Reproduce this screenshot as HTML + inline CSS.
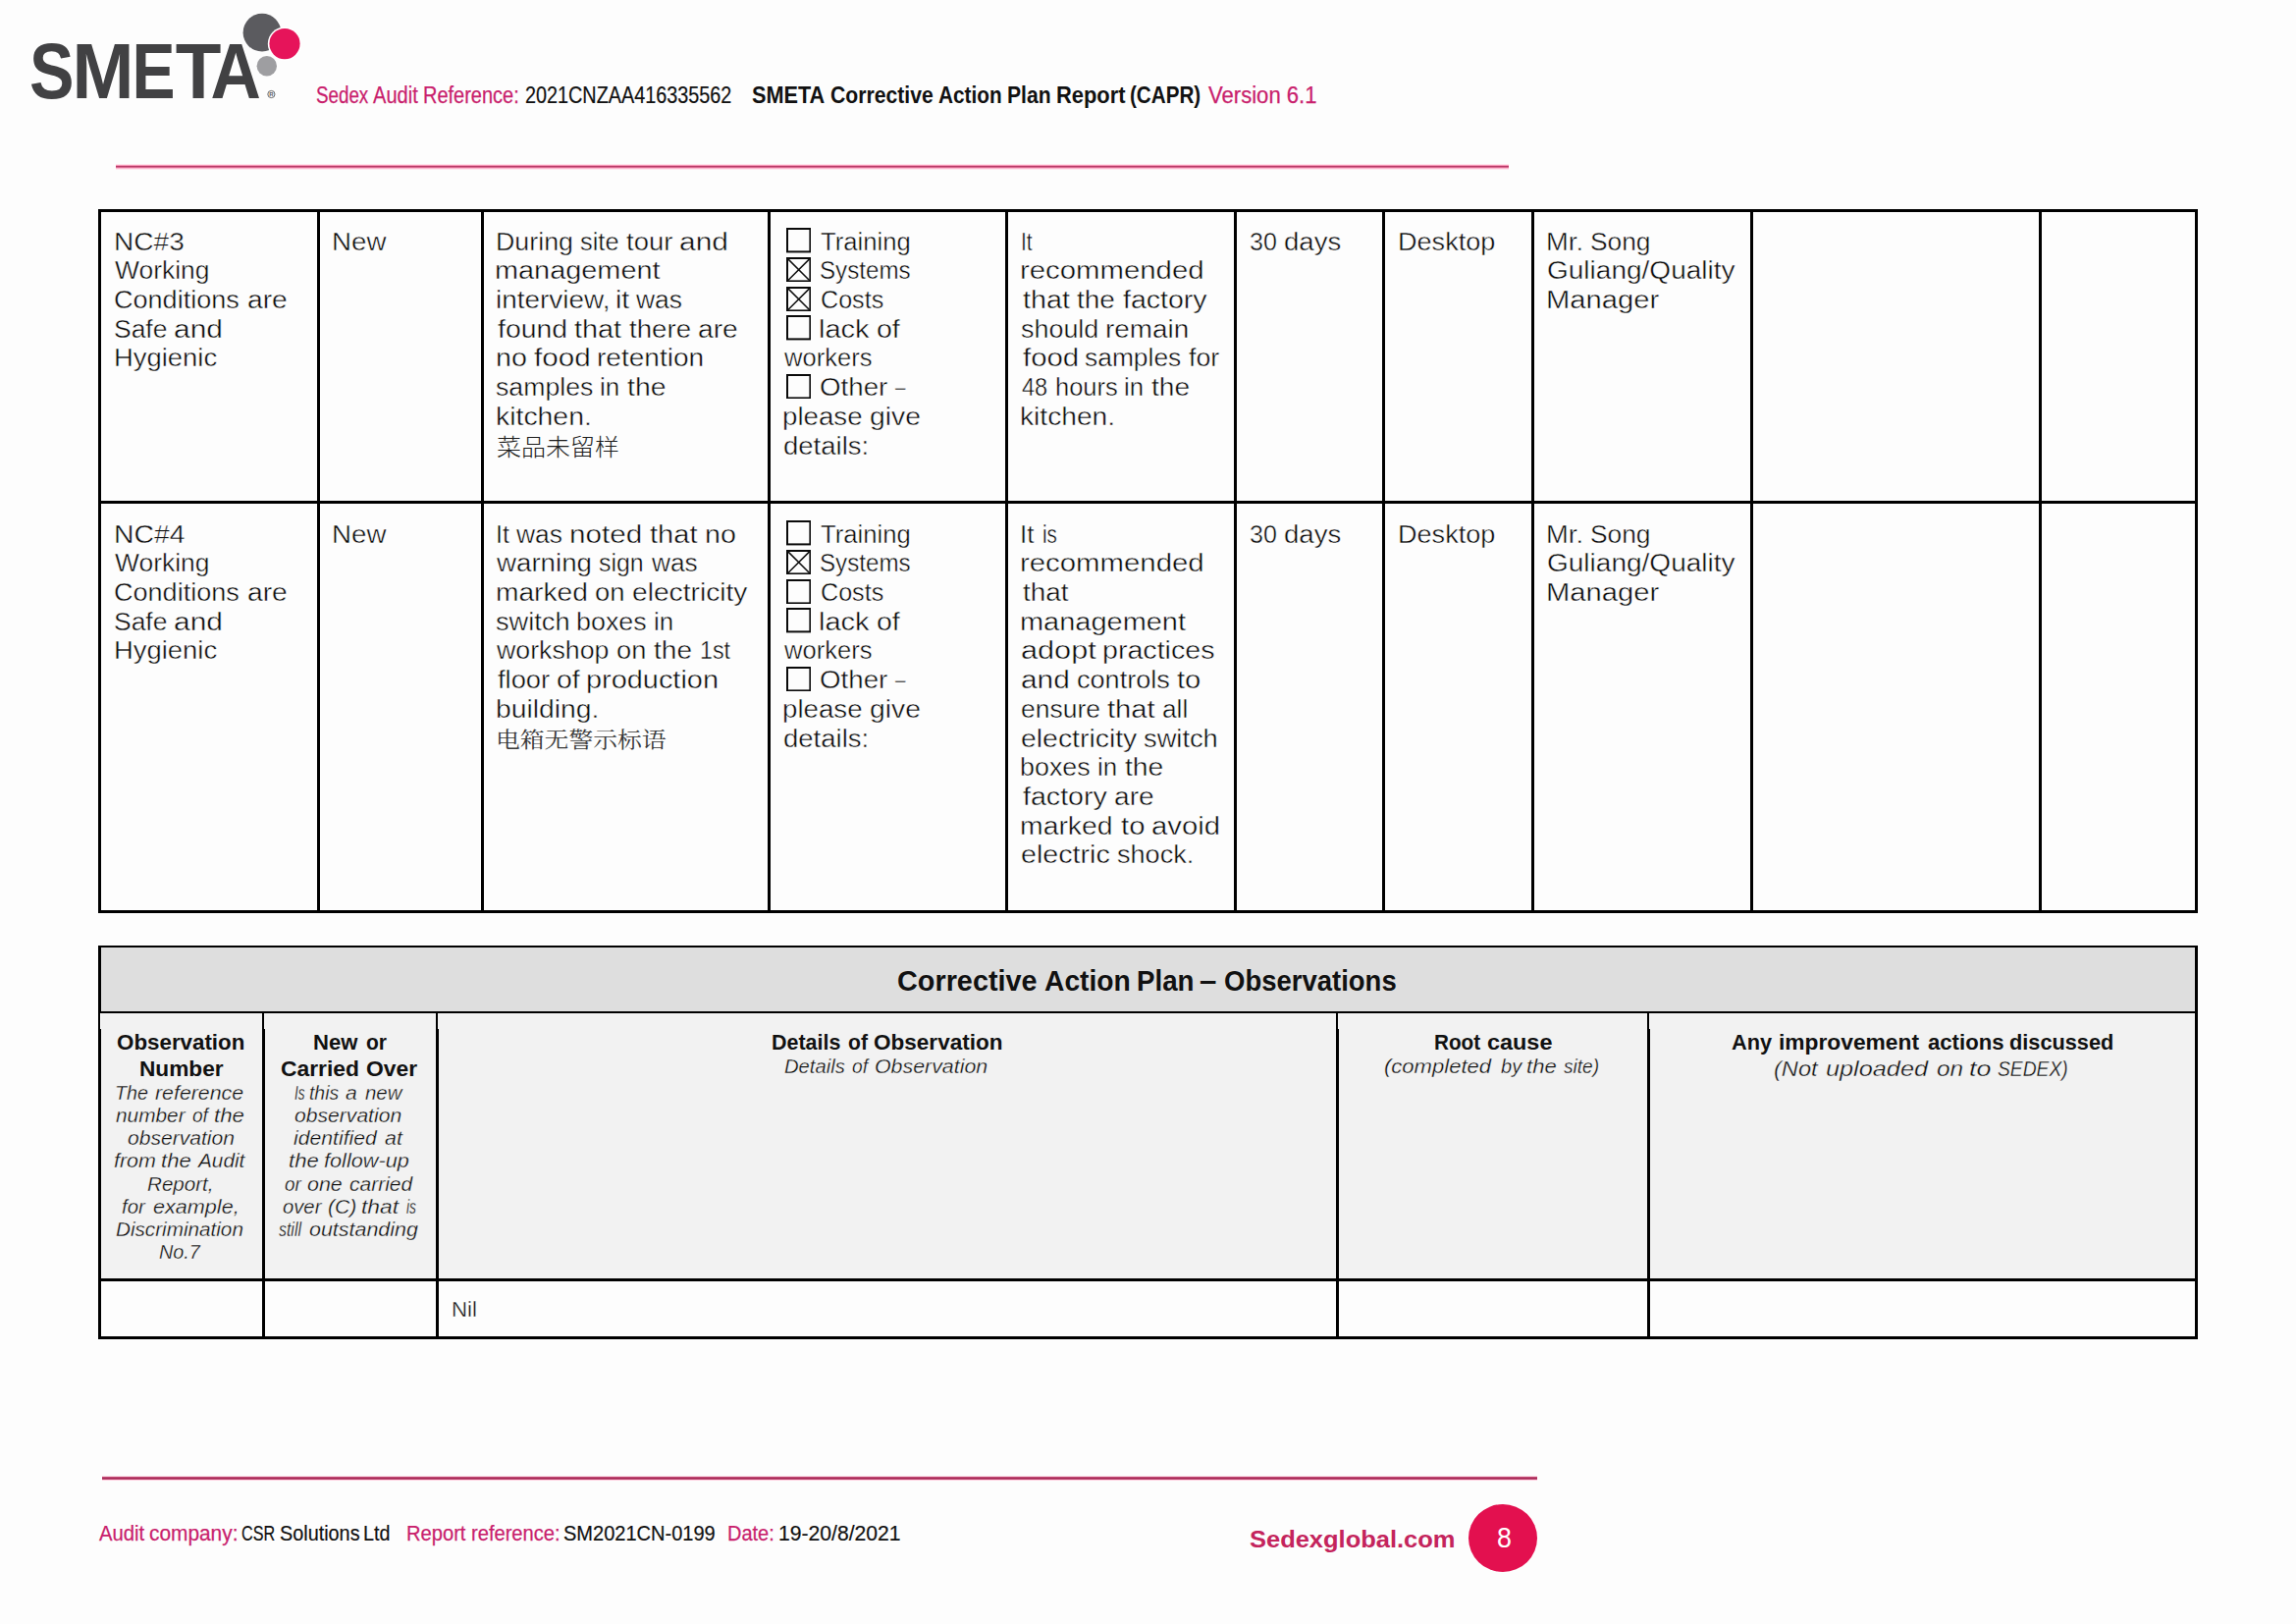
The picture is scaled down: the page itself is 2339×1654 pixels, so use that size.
<!DOCTYPE html>
<html lang="en"><head><meta charset="utf-8"><title>SMETA Corrective Action Plan Report (CAPR)</title>
<style>
html,body{margin:0;padding:0;background:#fff}
#pg{position:relative;width:2339px;height:1654px;overflow:hidden;background:#fdfdfd}
span.t{position:absolute;white-space:pre;line-height:1;transform-origin:0 0}
.k{position:absolute;background:#000}
.bx{position:absolute}
.r{font:400 25px "Liberation Sans",sans-serif;color:#0c0c0c;-webkit-text-stroke:0.4px #fdfdfd}
.r21{font:400 22.2px "Liberation Sans",sans-serif;color:#111;-webkit-text-stroke:0.35px #fdfdfd}
.b28{font:700 28.6px "Liberation Sans",sans-serif;color:#111}
.b22{font:700 22.2px "Liberation Sans",sans-serif;color:#111}
.i18{font:italic 400 19.4px "Liberation Sans",sans-serif;color:#0c0c0c;-webkit-text-stroke:0.3px #f2f2f2}
.i20{font:italic 400 22.2px "Liberation Sans",sans-serif;color:#0c0c0c;-webkit-text-stroke:0.35px #f2f2f2}
.zh1{font:300 24.5px "Liberation Sans","Noto Sans CJK SC",sans-serif;color:#1c1c1c}
.zh2{font:400 24.5px "Liberation Serif","Noto Serif CJK SC",serif;color:#383838}
.hp{font:400 23.5px "Liberation Sans",sans-serif;color:#c91f6d;-webkit-text-stroke:0.25px #c91f6d}
.hk{font:400 23.5px "Liberation Sans",sans-serif;color:#111;-webkit-text-stroke:0.2px #111}
.hb{font:700 24px "Liberation Sans",sans-serif;color:#111}
.fp{font:400 22px "Liberation Sans",sans-serif;color:#c91f6d;-webkit-text-stroke:0.25px #c91f6d}
.fk{font:400 22px "Liberation Sans",sans-serif;color:#111;-webkit-text-stroke:0.2px #111}
.sg{font:700 23px "Liberation Sans",sans-serif;color:#c4245c}
.pg{font:400 30px "Liberation Sans",sans-serif;color:#fff}
</style></head>
<body><div id="pg">
<header>
<svg class="bx" style="left:0;top:0" width="340" height="125" viewBox="0 0 340 125">
<circle cx="267" cy="33.2" r="19.4" fill="#5b5b5f"/>
<circle cx="271.8" cy="67.2" r="10.2" fill="#9e9ea1"/>
<circle cx="290" cy="44.6" r="17.2" fill="#fff"/>
<circle cx="290" cy="44.6" r="15.6" fill="#e6145a"/>
<text y="99.9" font-family="'Liberation Sans',sans-serif" font-weight="700" font-size="79" fill="#414143"><tspan x="30" textLength="45.5" lengthAdjust="spacingAndGlyphs">S</tspan><tspan x="73.5" textLength="63" lengthAdjust="spacingAndGlyphs">M</tspan><tspan x="134.5" textLength="44" lengthAdjust="spacingAndGlyphs">E</tspan><tspan x="178.7" textLength="46.6" lengthAdjust="spacingAndGlyphs">T</tspan><tspan x="214.6" textLength="51.4" lengthAdjust="spacingAndGlyphs">A</tspan></text>
<circle cx="276.4" cy="96" r="3.6" fill="none" stroke="#58585a" stroke-width="0.9"/>
<text x="276.4" y="98.3" font-family="'Liberation Sans',sans-serif" font-weight="700" font-size="6" fill="#58585a" text-anchor="middle">R</text>
</svg>
<div class="bx" style="left:117.5px;top:167px;width:1419px;height:6px;background:linear-gradient(to bottom,#ffe2eb 0px,#ffe2eb 1px,#f494b4 1px,#f494b4 2px,#b83c68 2px,#b83c68 3px,#dc6a92 3px,#dc6a92 4px,#fbb9d0 4px,#fbb9d0 5px,#ffe6ee 5px,#ffe6ee 6px)"></div>
<span class="t hp" style="left:321.60px;top:85.80px;transform:scaleX(0.7985)">Sedex </span>
<span class="t hp" style="left:380.10px;top:85.80px;transform:scaleX(0.8537)">Audit </span>
<span class="t hp" style="left:431.35px;top:85.80px;transform:scaleX(0.8500)">Reference:</span>
<span class="t hk" style="left:534.66px;top:85.80px;transform:scaleX(0.8427)">2021CNZAA416335562</span>
<span class="t hb" style="left:765.90px;top:84.80px;transform:scaleX(0.9025)">SMETA </span>
<span class="t hb" style="left:845.62px;top:84.80px;transform:scaleX(0.8821)">Corrective </span>
<span class="t hb" style="left:956.20px;top:84.80px;transform:scaleX(0.8649)">Action </span>
<span class="t hb" style="left:1025.92px;top:84.80px;transform:scaleX(0.8796)">Plan </span>
<span class="t hb" style="left:1075.99px;top:84.80px;transform:scaleX(0.9118)">Report </span>
<span class="t hb" style="left:1151.34px;top:84.80px;transform:scaleX(0.8598)">(CAPR)</span>
<span class="t hp" style="left:1231.10px;top:85.80px;transform:scaleX(0.9402)">Version 6.1</span>
</header>
<main>
<section id="nc-table">
<div class="k" style="left:100px;top:213px;width:3px;height:717px;"></div>
<div class="k" style="left:323px;top:213px;width:3px;height:717px;"></div>
<div class="k" style="left:490px;top:213px;width:3px;height:717px;"></div>
<div class="k" style="left:782px;top:213px;width:3px;height:717px;"></div>
<div class="k" style="left:1024px;top:213px;width:3px;height:717px;"></div>
<div class="k" style="left:1257px;top:213px;width:3px;height:717px;"></div>
<div class="k" style="left:1408px;top:213px;width:3px;height:717px;"></div>
<div class="k" style="left:1560px;top:213px;width:3px;height:717px;"></div>
<div class="k" style="left:1783px;top:213px;width:3px;height:717px;"></div>
<div class="k" style="left:2077px;top:213px;width:3px;height:717px;"></div>
<div class="k" style="left:2236px;top:213px;width:3px;height:717px;"></div>
<div class="k" style="left:100px;top:213px;width:2139px;height:3px;"></div>
<div class="k" style="left:100px;top:510px;width:2139px;height:3px;"></div>
<div class="k" style="left:100px;top:927px;width:2139px;height:3px;"></div>
<svg class="bx" style="left:800.5px;top:232.2px" width="25.4" height="25.4" viewBox="0 0 25.4 25.4"><rect x="1" y="1" width="23.4" height="23.4" fill="none" stroke="#0a0a0a" stroke-width="2"/></svg>
<svg class="bx" style="left:800.5px;top:261.92px" width="25.4" height="25.4" viewBox="0 0 25.4 25.4"><rect x="1" y="1" width="23.4" height="23.4" fill="none" stroke="#0a0a0a" stroke-width="2"/><path d="M1.6 1.6L23.8 23.8M23.8 1.6L1.6 23.8" stroke="#111" stroke-width="1.5" fill="none"/></svg>
<svg class="bx" style="left:800.5px;top:291.64px" width="25.4" height="25.4" viewBox="0 0 25.4 25.4"><rect x="1" y="1" width="23.4" height="23.4" fill="none" stroke="#0a0a0a" stroke-width="2"/><path d="M1.6 1.6L23.8 23.8M23.8 1.6L1.6 23.8" stroke="#111" stroke-width="1.5" fill="none"/></svg>
<svg class="bx" style="left:800.5px;top:321.36px" width="25.4" height="25.4" viewBox="0 0 25.4 25.4"><rect x="1" y="1" width="23.4" height="23.4" fill="none" stroke="#0a0a0a" stroke-width="2"/></svg>
<svg class="bx" style="left:800.5px;top:380.8px" width="25.4" height="25.4" viewBox="0 0 25.4 25.4"><rect x="1" y="1" width="23.4" height="23.4" fill="none" stroke="#0a0a0a" stroke-width="2"/></svg>
<svg class="bx" style="left:800.5px;top:530.2px" width="25.4" height="25.4" viewBox="0 0 25.4 25.4"><rect x="1" y="1" width="23.4" height="23.4" fill="none" stroke="#0a0a0a" stroke-width="2"/></svg>
<svg class="bx" style="left:800.5px;top:559.9px" width="25.4" height="25.4" viewBox="0 0 25.4 25.4"><rect x="1" y="1" width="23.4" height="23.4" fill="none" stroke="#0a0a0a" stroke-width="2"/><path d="M1.6 1.6L23.8 23.8M23.8 1.6L1.6 23.8" stroke="#111" stroke-width="1.5" fill="none"/></svg>
<svg class="bx" style="left:800.5px;top:589.6px" width="25.4" height="25.4" viewBox="0 0 25.4 25.4"><rect x="1" y="1" width="23.4" height="23.4" fill="none" stroke="#0a0a0a" stroke-width="2"/></svg>
<svg class="bx" style="left:800.5px;top:619.3px" width="25.4" height="25.4" viewBox="0 0 25.4 25.4"><rect x="1" y="1" width="23.4" height="23.4" fill="none" stroke="#0a0a0a" stroke-width="2"/></svg>
<svg class="bx" style="left:800.5px;top:678.7px" width="25.4" height="25.4" viewBox="0 0 25.4 25.4"><rect x="1" y="1" width="23.4" height="23.4" fill="none" stroke="#0a0a0a" stroke-width="2"/></svg>
<span class="t r" style="left:115.55px;top:233.60px;transform:scaleX(1.1230)">NC#3</span>
<span class="t r" style="left:117.30px;top:263.32px;transform:scaleX(1.0567)">Working</span>
<span class="t r" style="left:116.22px;top:293.04px;transform:scaleX(1.0816)">Conditions </span>
<span class="t r" style="left:251.70px;top:293.04px;transform:scaleX(1.1286)">are</span>
<span class="t r" style="left:115.74px;top:322.76px;transform:scaleX(1.0584)">Safe </span>
<span class="t r" style="left:176.85px;top:322.76px;transform:scaleX(1.1963)">and</span>
<span class="t r" style="left:115.61px;top:352.48px;transform:scaleX(1.0968)">Hygienic</span>
<span class="t r" style="left:338.28px;top:233.60px;transform:scaleX(1.1083)">New</span>
<span class="t r" style="left:504.75px;top:233.60px;transform:scaleX(1.0725)">During </span>
<span class="t r" style="left:590.69px;top:233.60px;transform:scaleX(1.0152)">site </span>
<span class="t r" style="left:637.82px;top:233.60px;transform:scaleX(1.0981)">tour </span>
<span class="t r" style="left:692.26px;top:233.60px;transform:scaleX(1.1959)">and</span>
<span class="t r" style="left:504.19px;top:263.32px;transform:scaleX(1.1549)">management</span>
<span class="t r" style="left:504.67px;top:293.04px;transform:scaleX(1.1170)">interview, </span>
<span class="t r" style="left:627.29px;top:293.04px;transform:scaleX(1.1391)">it </span>
<span class="t r" style="left:648.46px;top:293.04px;transform:scaleX(1.0578)">was</span>
<span class="t r" style="left:506.50px;top:322.76px;transform:scaleX(1.1356)">found </span>
<span class="t r" style="left:584.91px;top:322.76px;transform:scaleX(1.1537)">that </span>
<span class="t r" style="left:640.89px;top:322.76px;transform:scaleX(1.1058)">there </span>
<span class="t r" style="left:710.98px;top:322.76px;transform:scaleX(1.1264)">are</span>
<span class="t r" style="left:504.61px;top:352.48px;transform:scaleX(1.1458)">no </span>
<span class="t r" style="left:544.07px;top:352.48px;transform:scaleX(1.1843)">food </span>
<span class="t r" style="left:608.20px;top:352.48px;transform:scaleX(1.1218)">retention</span>
<span class="t r" style="left:505.03px;top:382.20px;transform:scaleX(1.0669)">samples </span>
<span class="t r" style="left:610.84px;top:382.20px;transform:scaleX(1.0378)">in </span>
<span class="t r" style="left:638.76px;top:382.20px;transform:scaleX(1.1365)">the</span>
<span class="t r" style="left:504.63px;top:411.92px;transform:scaleX(1.1354)">kitchen.</span>
<span class="t r" style="left:835.57px;top:233.60px;transform:scaleX(1.0264)">Training</span>
<span class="t r" style="left:834.83px;top:263.32px;transform:scaleX(0.9660)">Systems</span>
<span class="t r" style="left:835.60px;top:293.04px;transform:scaleX(1.0048)">Costs</span>
<span class="t r" style="left:834.28px;top:322.76px;transform:scaleX(1.1603)">lack </span>
<span class="t r" style="left:892.63px;top:322.76px;transform:scaleX(1.1412)">of</span>
<span class="t r" style="left:798.90px;top:352.48px;transform:scaleX(1.0218)">workers</span>
<span class="t r" style="left:835.49px;top:382.20px;transform:scaleX(1.1079)">Other </span>
<span class="t r" style="left:912.33px;top:382.20px;transform:scaleX(0.7478)">–</span>
<span class="t r" style="left:797.38px;top:411.92px;transform:scaleX(1.1077)">please </span>
<span class="t r" style="left:886.49px;top:411.92px;transform:scaleX(1.1313)">give</span>
<span class="t r" style="left:798.10px;top:441.64px;transform:scaleX(1.1000)">details:</span>
<span class="t r" style="left:1039.93px;top:233.60px;transform:scaleX(0.8333)">It</span>
<span class="t r" style="left:1038.55px;top:263.32px;transform:scaleX(1.1737)">recommended</span>
<span class="t r" style="left:1041.60px;top:293.04px;transform:scaleX(1.1492)">that </span>
<span class="t r" style="left:1097.35px;top:293.04px;transform:scaleX(1.1205)">the </span>
<span class="t r" style="left:1143.88px;top:293.04px;transform:scaleX(1.1402)">factory</span>
<span class="t r" style="left:1039.82px;top:322.76px;transform:scaleX(1.0762)">should </span>
<span class="t r" style="left:1125.83px;top:322.76px;transform:scaleX(1.1143)">remain</span>
<span class="t r" style="left:1041.60px;top:352.48px;transform:scaleX(1.1755)">food </span>
<span class="t r" style="left:1105.43px;top:352.48px;transform:scaleX(1.0558)">samples </span>
<span class="t r" style="left:1210.70px;top:352.48px;transform:scaleX(1.0689)">for</span>
<span class="t r" style="left:1041.30px;top:382.20px;transform:scaleX(0.9420)">48 </span>
<span class="t r" style="left:1074.67px;top:382.20px;transform:scaleX(1.0190)">hours </span>
<span class="t r" style="left:1145.44px;top:382.20px;transform:scaleX(1.0285)">in </span>
<span class="t r" style="left:1173.10px;top:382.20px;transform:scaleX(1.1264)">the</span>
<span class="t r" style="left:1039.35px;top:411.92px;transform:scaleX(1.1268)">kitchen.</span>
<span class="t r" style="left:1272.50px;top:233.60px;transform:scaleX(0.9987)">30 </span>
<span class="t r" style="left:1307.86px;top:233.60px;transform:scaleX(1.1027)">days</span>
<span class="t r" style="left:1423.73px;top:233.60px;transform:scaleX(1.0831)">Desktop</span>
<span class="t r" style="left:1575.11px;top:233.60px;transform:scaleX(1.0942)">Mr. </span>
<span class="t r" style="left:1620.24px;top:233.60px;transform:scaleX(1.0537)">Song</span>
<span class="t r" style="left:1576.18px;top:263.32px;transform:scaleX(1.1206)">Guliang/Quality</span>
<span class="t r" style="left:1574.97px;top:293.04px;transform:scaleX(1.1667)">Manager</span>
<span class="t r" style="left:115.53px;top:531.60px;transform:scaleX(1.1344)">NC#4</span>
<span class="t r" style="left:117.30px;top:561.30px;transform:scaleX(1.0567)">Working</span>
<span class="t r" style="left:116.22px;top:591.00px;transform:scaleX(1.0816)">Conditions </span>
<span class="t r" style="left:251.70px;top:591.00px;transform:scaleX(1.1286)">are</span>
<span class="t r" style="left:115.74px;top:620.70px;transform:scaleX(1.0584)">Safe </span>
<span class="t r" style="left:176.85px;top:620.70px;transform:scaleX(1.1963)">and</span>
<span class="t r" style="left:115.61px;top:650.40px;transform:scaleX(1.0968)">Hygienic</span>
<span class="t r" style="left:338.28px;top:531.60px;transform:scaleX(1.1083)">New</span>
<span class="t r" style="left:504.89px;top:531.60px;transform:scaleX(1.0038)">It </span>
<span class="t r" style="left:526.45px;top:531.60px;transform:scaleX(1.0580)">was </span>
<span class="t r" style="left:580.34px;top:531.60px;transform:scaleX(1.1863)">noted </span>
<span class="t r" style="left:661.92px;top:531.60px;transform:scaleX(1.1628)">that </span>
<span class="t r" style="left:717.55px;top:531.60px;transform:scaleX(1.1464)">no</span>
<span class="t r" style="left:506.10px;top:561.30px;transform:scaleX(1.1070)">warning </span>
<span class="t r" style="left:609.94px;top:561.30px;transform:scaleX(0.9971)">sign </span>
<span class="t r" style="left:663.88px;top:561.30px;transform:scaleX(1.0504)">was</span>
<span class="t r" style="left:504.65px;top:591.00px;transform:scaleX(1.1265)">marked </span>
<span class="t r" style="left:605.91px;top:591.00px;transform:scaleX(1.0968)">on </span>
<span class="t r" style="left:644.38px;top:591.00px;transform:scaleX(1.1271)">electricity</span>
<span class="t r" style="left:505.01px;top:620.70px;transform:scaleX(1.0870)">switch </span>
<span class="t r" style="left:587.48px;top:620.70px;transform:scaleX(1.0753)">boxes </span>
<span class="t r" style="left:666.09px;top:620.70px;transform:scaleX(1.0341)">in</span>
<span class="t r" style="left:506.10px;top:650.40px;transform:scaleX(1.0690)">workshop </span>
<span class="t r" style="left:627.58px;top:650.40px;transform:scaleX(1.0905)">on </span>
<span class="t r" style="left:666.14px;top:650.40px;transform:scaleX(1.1216)">the </span>
<span class="t r" style="left:713.22px;top:650.40px;transform:scaleX(0.9298)">1st</span>
<span class="t r" style="left:506.90px;top:680.10px;transform:scaleX(1.0923)">floor </span>
<span class="t r" style="left:566.56px;top:680.10px;transform:scaleX(1.1372)">of </span>
<span class="t r" style="left:597.16px;top:680.10px;transform:scaleX(1.1560)">production</span>
<span class="t r" style="left:504.63px;top:709.80px;transform:scaleX(1.1326)">building.</span>
<span class="t r" style="left:835.57px;top:531.60px;transform:scaleX(1.0264)">Training</span>
<span class="t r" style="left:834.83px;top:561.30px;transform:scaleX(0.9660)">Systems</span>
<span class="t r" style="left:835.60px;top:591.00px;transform:scaleX(1.0048)">Costs</span>
<span class="t r" style="left:834.28px;top:620.70px;transform:scaleX(1.1603)">lack </span>
<span class="t r" style="left:892.63px;top:620.70px;transform:scaleX(1.1412)">of</span>
<span class="t r" style="left:798.90px;top:650.40px;transform:scaleX(1.0218)">workers</span>
<span class="t r" style="left:835.49px;top:680.10px;transform:scaleX(1.1079)">Other </span>
<span class="t r" style="left:912.33px;top:680.10px;transform:scaleX(0.7478)">–</span>
<span class="t r" style="left:797.38px;top:709.80px;transform:scaleX(1.1077)">please </span>
<span class="t r" style="left:886.49px;top:709.80px;transform:scaleX(1.1313)">give</span>
<span class="t r" style="left:798.10px;top:739.50px;transform:scaleX(1.1000)">details:</span>
<span class="t r" style="left:1039.43px;top:531.60px;transform:scaleX(1.0364)">It </span>
<span class="t r" style="left:1061.66px;top:531.60px;transform:scaleX(0.8256)">is</span>
<span class="t r" style="left:1038.65px;top:561.30px;transform:scaleX(1.1744)">recommended</span>
<span class="t r" style="left:1041.50px;top:591.00px;transform:scaleX(1.1143)">that</span>
<span class="t r" style="left:1039.18px;top:620.70px;transform:scaleX(1.1583)">management</span>
<span class="t r" style="left:1039.77px;top:650.40px;transform:scaleX(1.2271)">adopt </span>
<span class="t r" style="left:1122.64px;top:650.40px;transform:scaleX(1.1441)">practices</span>
<span class="t r" style="left:1039.81px;top:680.10px;transform:scaleX(1.1942)">and </span>
<span class="t r" style="left:1096.53px;top:680.10px;transform:scaleX(1.0837)">controls </span>
<span class="t r" style="left:1199.03px;top:680.10px;transform:scaleX(1.1687)">to</span>
<span class="t r" style="left:1039.94px;top:709.80px;transform:scaleX(1.0586)">ensure </span>
<span class="t r" style="left:1127.89px;top:709.80px;transform:scaleX(1.1666)">that </span>
<span class="t r" style="left:1184.28px;top:709.80px;transform:scaleX(1.0510)">all</span>
<span class="t r" style="left:1039.86px;top:739.50px;transform:scaleX(1.1356)">electricity </span>
<span class="t r" style="left:1165.02px;top:739.50px;transform:scaleX(1.0908)">switch</span>
<span class="t r" style="left:1039.35px;top:769.20px;transform:scaleX(1.0747)">boxes </span>
<span class="t r" style="left:1117.91px;top:769.20px;transform:scaleX(1.0336)">in </span>
<span class="t r" style="left:1145.71px;top:769.20px;transform:scaleX(1.1320)">the</span>
<span class="t r" style="left:1041.50px;top:798.90px;transform:scaleX(1.1435)">factory </span>
<span class="t r" style="left:1134.52px;top:798.90px;transform:scaleX(1.1251)">are</span>
<span class="t r" style="left:1039.23px;top:828.60px;transform:scaleX(1.1349)">marked </span>
<span class="t r" style="left:1141.53px;top:828.60px;transform:scaleX(1.1711)">to </span>
<span class="t r" style="left:1173.16px;top:828.60px;transform:scaleX(1.1714)">avoid</span>
<span class="t r" style="left:1039.85px;top:858.30px;transform:scaleX(1.1457)">electric </span>
<span class="t r" style="left:1138.38px;top:858.30px;transform:scaleX(1.0832)">shock.</span>
<span class="t r" style="left:1272.50px;top:531.60px;transform:scaleX(0.9987)">30 </span>
<span class="t r" style="left:1307.86px;top:531.60px;transform:scaleX(1.1027)">days</span>
<span class="t r" style="left:1423.73px;top:531.60px;transform:scaleX(1.0831)">Desktop</span>
<span class="t r" style="left:1575.11px;top:531.60px;transform:scaleX(1.0942)">Mr. </span>
<span class="t r" style="left:1620.24px;top:531.60px;transform:scaleX(1.0537)">Song</span>
<span class="t r" style="left:1576.18px;top:561.30px;transform:scaleX(1.1206)">Guliang/Quality</span>
<span class="t r" style="left:1574.97px;top:591.00px;transform:scaleX(1.1667)">Manager</span>
<span class="t zh1" style="left:505.88px;top:445.36px;transform:scale(1.0192,0.9625)">菜品未留样</span>
<span class="t zh2" style="left:505.36px;top:743.48px;transform:scale(1.0125,0.8920)">电箱无警示标语</span>
</section>
<section id="obs-table">
<div class="bx" style="left:103px;top:965px;width:2133px;height:65px;background:#dedede"></div>
<div class="bx" style="left:103px;top:1032px;width:2133px;height:270px;background:#f2f2f2"></div>
<div class="k" style="left:100px;top:963px;width:2139px;height:2px;"></div>
<div class="k" style="left:100px;top:1030px;width:2139px;height:2px;"></div>
<div class="k" style="left:100px;top:1302px;width:2139px;height:3px;"></div>
<div class="k" style="left:100px;top:1361px;width:2139px;height:3px;"></div>
<div class="k" style="left:100px;top:963px;width:3px;height:69px;"></div>
<div class="k" style="left:100px;top:1032px;width:2px;height:16px;"></div>
<div class="k" style="left:100px;top:1047.5px;width:3px;height:316.5px;"></div>
<div class="k" style="left:2236px;top:963px;width:3px;height:401px;"></div>
<div class="k" style="left:267px;top:1031px;width:2px;height:17px;"></div>
<div class="k" style="left:267px;top:1047.5px;width:3px;height:316.5px;"></div>
<div class="k" style="left:444px;top:1031px;width:2px;height:17px;"></div>
<div class="k" style="left:444px;top:1047.5px;width:3px;height:316.5px;"></div>
<div class="k" style="left:1361px;top:1031px;width:2px;height:17px;"></div>
<div class="k" style="left:1361px;top:1047.5px;width:3px;height:316.5px;"></div>
<div class="k" style="left:1678px;top:1031px;width:2px;height:17px;"></div>
<div class="k" style="left:1678px;top:1047.5px;width:3px;height:316.5px;"></div>
<span class="t b28" style="left:914.29px;top:984.50px;transform:scaleX(1.0079)">Corrective </span>
<span class="t b28" style="left:1063.61px;top:984.50px;transform:scaleX(0.9874)">Action </span>
<span class="t b28" style="left:1157.96px;top:984.50px;transform:scaleX(0.9684)">Plan </span>
<span class="t b28" style="left:1222.31px;top:984.50px;transform:scaleX(1.0929)">– </span>
<span class="t b28" style="left:1247.14px;top:984.50px;transform:scaleX(0.9613)">Observations</span>
<span class="t b22" style="left:118.59px;top:1051.00px;transform:scaleX(1.0070)">Observation</span>
<span class="t b22" style="left:141.88px;top:1077.70px;transform:scaleX(1.0217)">Number</span>
<span class="t i18" style="left:116.57px;top:1103.80px;transform:scaleX(1.0152)">The </span>
<span class="t i18" style="left:157.83px;top:1103.80px;transform:scaleX(1.0996)">reference</span>
<span class="t i18" style="left:117.50px;top:1126.70px;transform:scaleX(1.0734)">number </span>
<span class="t i18" style="left:195.92px;top:1126.70px;transform:scaleX(0.9827)">of </span>
<span class="t i18" style="left:218.33px;top:1126.70px;transform:scaleX(1.1471)">the</span>
<span class="t i18" style="left:129.60px;top:1150.00px;transform:scaleX(1.0870)">observation</span>
<span class="t i18" style="left:115.99px;top:1172.80px;transform:scaleX(1.1054)">from </span>
<span class="t i18" style="left:163.95px;top:1172.80px;transform:scaleX(1.1408)">the </span>
<span class="t i18" style="left:202.33px;top:1172.80px;transform:scaleX(1.0705)">Audit</span>
<span class="t i18" style="left:149.64px;top:1196.60px;transform:scaleX(1.0623)">Report,</span>
<span class="t i18" style="left:123.85px;top:1219.80px;transform:scaleX(1.0489)">for </span>
<span class="t i18" style="left:155.52px;top:1219.80px;transform:scaleX(1.1141)">example,</span>
<span class="t i18" style="left:118.03px;top:1242.60px;transform:scaleX(1.0667)">Discrimination</span>
<span class="t i18" style="left:162.18px;top:1265.60px;transform:scaleX(1.0220)">No.7</span>
<span class="t b22" style="left:318.50px;top:1051.00px;transform:scaleX(0.9956)">New </span>
<span class="t b22" style="left:372.55px;top:1051.00px;transform:scaleX(0.9476)">or</span>
<span class="t b22" style="left:285.97px;top:1077.70px;transform:scaleX(1.0289)">Carried </span>
<span class="t b22" style="left:372.97px;top:1077.70px;transform:scaleX(1.0300)">Over</span>
<span class="t i18" style="left:299.60px;top:1103.80px;transform:scaleX(0.7004)">Is </span>
<span class="t i18" style="left:315.47px;top:1103.80px;transform:scaleX(0.9977)">this </span>
<span class="t i18" style="left:352.41px;top:1103.80px;transform:scaleX(1.0896)">a </span>
<span class="t i18" style="left:371.61px;top:1103.80px;transform:scaleX(1.0538)">new</span>
<span class="t i18" style="left:300.30px;top:1126.70px;transform:scaleX(1.0890)">observation</span>
<span class="t i18" style="left:299.20px;top:1150.00px;transform:scaleX(1.0922)">identified </span>
<span class="t i18" style="left:392.16px;top:1150.00px;transform:scaleX(1.1021)">at</span>
<span class="t i18" style="left:293.66px;top:1172.80px;transform:scaleX(1.1374)">the </span>
<span class="t i18" style="left:329.80px;top:1172.80px;transform:scaleX(1.1182)">follow-up</span>
<span class="t i18" style="left:289.50px;top:1196.60px;transform:scaleX(0.9684)">or </span>
<span class="t i18" style="left:313.44px;top:1196.60px;transform:scaleX(1.1035)">one </span>
<span class="t i18" style="left:355.99px;top:1196.60px;transform:scaleX(1.0819)">carried</span>
<span class="t i18" style="left:287.50px;top:1219.80px;transform:scaleX(1.0437)">over </span>
<span class="t i18" style="left:334.02px;top:1219.80px;transform:scaleX(1.0929)">(C) </span>
<span class="t i18" style="left:368.27px;top:1219.80px;transform:scaleX(1.1776)">that </span>
<span class="t i18" style="left:414.14px;top:1219.80px;transform:scaleX(0.7120)">is</span>
<span class="t i18" style="left:283.70px;top:1242.60px;transform:scaleX(0.8193)">still </span>
<span class="t i18" style="left:315.27px;top:1242.60px;transform:scaleX(1.1063)">outstanding</span>
<span class="t b22" style="left:786.43px;top:1051.00px;transform:scaleX(0.9662)">Details </span>
<span class="t b22" style="left:863.55px;top:1051.00px;transform:scaleX(0.9500)">of </span>
<span class="t b22" style="left:889.68px;top:1051.00px;transform:scaleX(1.0156)">Observation</span>
<span class="t i18" style="left:799.46px;top:1076.80px;transform:scaleX(1.0417)">Details </span>
<span class="t i18" style="left:867.95px;top:1076.80px;transform:scaleX(0.9883)">of </span>
<span class="t i18" style="left:891.18px;top:1076.80px;transform:scaleX(1.1012)">Observation</span>
<span class="t b22" style="left:1460.67px;top:1050.80px;transform:scaleX(0.9340)">Root </span>
<span class="t b22" style="left:1515.04px;top:1050.80px;transform:scaleX(1.0557)">cause</span>
<span class="t i18" style="left:1410.46px;top:1076.80px;transform:scaleX(1.1368)">(completed </span>
<span class="t i18" style="left:1528.95px;top:1076.80px;transform:scaleX(1.0366)">by </span>
<span class="t i18" style="left:1555.44px;top:1076.80px;transform:scaleX(1.1371)">the </span>
<span class="t i18" style="left:1593.07px;top:1076.80px;transform:scaleX(0.9843)">site)</span>
<span class="t b22" style="left:1763.70px;top:1050.80px;transform:scaleX(0.9810)">Any </span>
<span class="t b22" style="left:1812.07px;top:1050.80px;transform:scaleX(1.0266)">improvement </span>
<span class="t b22" style="left:1964.00px;top:1050.80px;transform:scaleX(0.9974)">actions </span>
<span class="t b22" style="left:2047.22px;top:1050.80px;transform:scaleX(0.9792)">discussed</span>
<span class="t i20" style="left:1807.44px;top:1077.90px;transform:scaleX(1.0631)">(Not </span>
<span class="t i20" style="left:1860.00px;top:1077.90px;transform:scaleX(1.1395)">uploaded </span>
<span class="t i20" style="left:1972.56px;top:1077.90px;transform:scaleX(1.0959)">on </span>
<span class="t i20" style="left:2005.76px;top:1077.90px;transform:scaleX(1.2087)">to </span>
<span class="t i20" style="left:2034.59px;top:1077.90px;transform:scaleX(0.8684)">SEDEX)</span>
<span class="t r21" style="left:459.79px;top:1322.80px;transform:scaleX(1.0043)">Nil</span>
</section>
</main>
<footer>
<div class="bx" style="left:104px;top:1503px;width:1462px;height:5px;background:linear-gradient(to bottom,#fbdce6 0px,#fbdce6 1px,#c24c76 1px,#c24c76 2px,#a62a58 2px,#a62a58 3px,#be466f 3px,#be466f 4px,#ffd2e1 4px,#ffd2e1 5px)"></div>
<div class="bx" style="left:1496px;top:1531.5px;width:70px;height:69px;border-radius:50%;background:#e3104f"></div>
<span class="t fp" style="left:101.00px;top:1550.70px;transform:scaleX(0.9220)">Audit </span>
<span class="t fp" style="left:152.15px;top:1550.70px;transform:scaleX(0.9484)">company:</span>
<span class="t fk" style="left:245.56px;top:1550.70px;transform:scaleX(0.7356)">CSR </span>
<span class="t fk" style="left:284.50px;top:1550.70px;transform:scaleX(0.9011)">Solutions </span>
<span class="t fk" style="left:369.70px;top:1550.70px;transform:scaleX(0.8966)">Ltd</span>
<span class="t fp" style="left:414.38px;top:1550.70px;transform:scaleX(0.9154)">Report </span>
<span class="t fp" style="left:480.19px;top:1550.70px;transform:scaleX(0.9144)">reference:</span>
<span class="t fk" style="left:574.29px;top:1550.70px;transform:scaleX(0.9101)">SM2021CN-0199</span>
<span class="t fp" style="left:741.29px;top:1550.70px;transform:scaleX(0.9080)">Date:</span>
<span class="t fk" style="left:792.94px;top:1550.70px;transform:scaleX(0.9609)">19-20/8/2021</span>
<span class="t sg" style="left:1273.29px;top:1557.00px;transform:scaleX(1.1070)">Sedexglobal.com</span>
<span class="t pg" style="left:1524.81px;top:1551.20px;transform:scaleX(0.8933)">8</span>
</footer>
</div></body></html>
